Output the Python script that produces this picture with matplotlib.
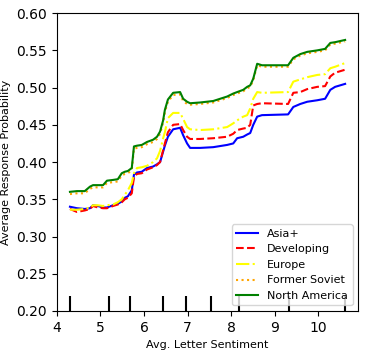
import numpy as np
import matplotlib
matplotlib.use("Agg")
import matplotlib.pyplot as plt

# grid of avg. letter sentiment values
x = [4.30, 4.46, 4.64, 4.76, 4.83, 4.94, 5.06, 5.15, 5.29, 5.40, 5.49, 5.56, 5.63,
     5.72, 5.77, 5.84, 5.95, 6.07, 6.21, 6.30, 6.37, 6.44, 6.48, 6.55, 6.67, 6.83,
     6.90, 6.99, 7.06, 7.29, 7.59, 7.91, 8.05, 8.14, 8.28, 8.37, 8.44, 8.51, 8.60,
     8.71, 9.31, 9.43, 9.59, 9.75, 9.98, 10.16, 10.28, 10.39, 10.62]

asia = [0.340, 0.338, 0.337, 0.338, 0.342, 0.341, 0.339, 0.339, 0.342, 0.344, 0.347, 0.352, 0.354,
        0.362, 0.383, 0.386, 0.387, 0.392, 0.394, 0.397, 0.400, 0.414, 0.422, 0.434, 0.444, 0.446,
        0.436, 0.425, 0.419, 0.419, 0.420, 0.423, 0.425, 0.432, 0.434, 0.437, 0.439, 0.450, 0.461,
        0.463, 0.464, 0.474, 0.478, 0.481, 0.483, 0.485, 0.497, 0.501, 0.505]

developing = [0.337, 0.333, 0.335, 0.337, 0.341, 0.339, 0.338, 0.338, 0.341, 0.343, 0.346, 0.350, 0.352,
              0.358, 0.380, 0.384, 0.385, 0.390, 0.393, 0.396, 0.400, 0.416, 0.425, 0.440, 0.450, 0.451,
              0.443, 0.434, 0.431, 0.431, 0.432, 0.434, 0.438, 0.443, 0.445, 0.446, 0.450, 0.476, 0.478,
              0.479, 0.478, 0.493, 0.494, 0.498, 0.501, 0.502, 0.515, 0.520, 0.524]

europe = [0.336, 0.336, 0.337, 0.339, 0.342, 0.342, 0.341, 0.342, 0.343, 0.346, 0.350, 0.356, 0.362,
          0.372, 0.385, 0.392, 0.393, 0.395, 0.400, 0.405, 0.415, 0.432, 0.440, 0.459, 0.466, 0.466,
          0.458, 0.447, 0.444, 0.443, 0.444, 0.447, 0.452, 0.456, 0.461, 0.463, 0.472, 0.485, 0.494,
          0.493, 0.494, 0.508, 0.511, 0.514, 0.517, 0.518, 0.526, 0.528, 0.533]

soviet = [0.357, 0.358, 0.358, 0.364, 0.366, 0.366, 0.366, 0.372, 0.373, 0.374, 0.382, 0.384, 0.385,
          0.389, 0.418, 0.419, 0.420, 0.424, 0.427, 0.431, 0.438, 0.453, 0.467, 0.481, 0.490, 0.491,
          0.482, 0.478, 0.477, 0.478, 0.480, 0.486, 0.490, 0.492, 0.495, 0.499, 0.501, 0.510, 0.530,
          0.528, 0.528, 0.538, 0.543, 0.546, 0.548, 0.550, 0.558, 0.559, 0.562]

north_america = [0.360, 0.361, 0.361, 0.367, 0.369, 0.369, 0.369, 0.375, 0.376, 0.377, 0.385, 0.387, 0.388,
                 0.392, 0.421, 0.422, 0.423, 0.427, 0.430, 0.434, 0.441, 0.456, 0.470, 0.484, 0.493, 0.494,
                 0.485, 0.481, 0.479, 0.480, 0.482, 0.488, 0.492, 0.494, 0.497, 0.501, 0.503, 0.512, 0.532,
                 0.530, 0.530, 0.540, 0.545, 0.548, 0.550, 0.552, 0.560, 0.561, 0.564]

deciles = [4.31, 5.20, 5.68, 6.44, 6.97, 7.55, 8.19, 9.34, 10.62]

fig = plt.figure(figsize=(3.67, 3.55), dpi=100)
ax = fig.add_axes([0.155, 0.124, 0.821, 0.839])

ax.plot(x, asia, color="blue", linestyle="-", label="Asia+")
ax.plot(x, developing, color="red", linestyle="--", label="Developing")
ax.plot(x, europe, color="yellow", linestyle="-.", label="Europe")
ax.plot(x, soviet, color="orange", linestyle=":", label="Former Soviet")
ax.plot(x, north_america, color="green", linestyle="-", label="North America")

# deciles rug
ax.vlines(deciles, 0, 0.05, transform=ax.get_xaxis_transform(), color="k", linewidth=1.5)

ax.set_xlim(4, 10.92)
ax.set_ylim(0.20, 0.60)
ax.set_xticks([4, 5, 6, 7, 8, 9, 10])
ax.set_yticks(np.arange(0.20, 0.61, 0.05))
ax.set_xlabel("Avg. Letter Sentiment", fontsize=8)
ax.set_ylabel("Average Response Probability", fontsize=8)

ax.legend(loc="lower right", fontsize=8)

fig.savefig("out.png", dpi=100)
